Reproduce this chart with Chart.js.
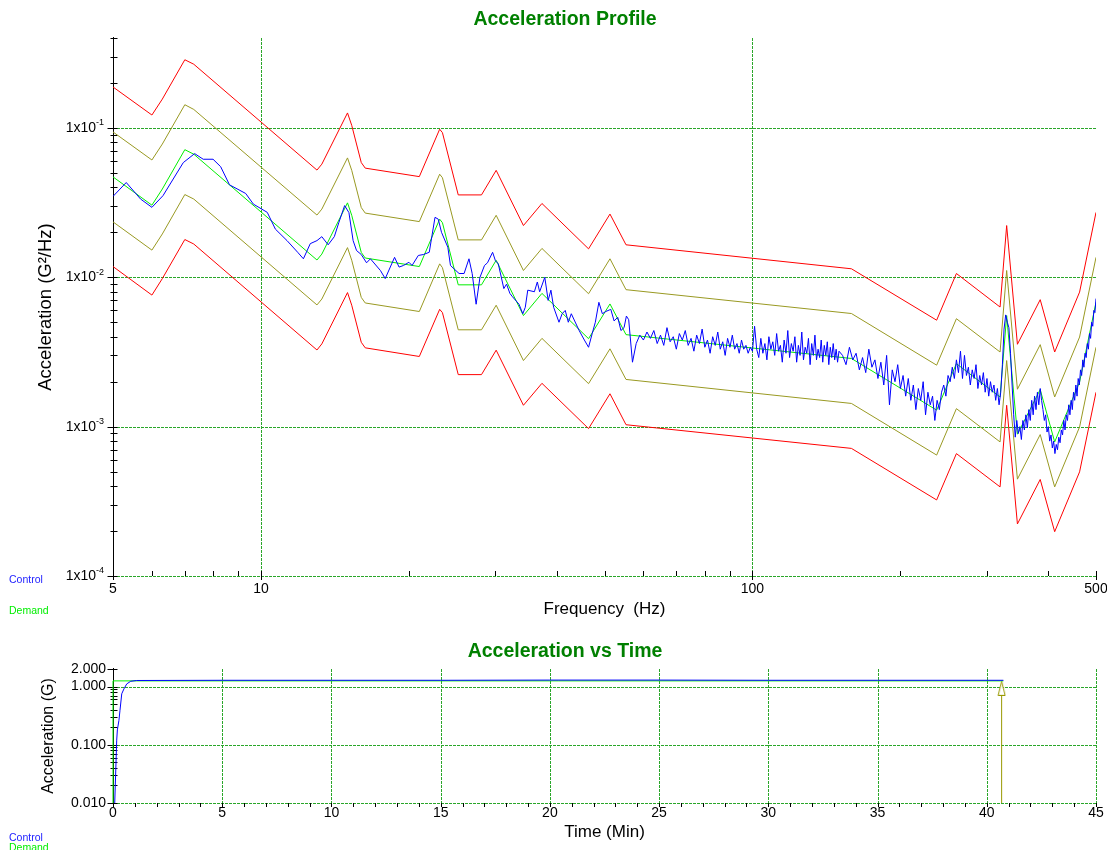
<!DOCTYPE html>
<html><head><meta charset="utf-8">
<script src="https://cdn.jsdelivr.net/npm/chart.js@4.4.1/dist/chart.umd.min.js"></script>
<style>
html,body{margin:0;padding:0;background:#fff;}
#wrap{position:relative;width:1107px;height:850px;overflow:hidden;background:#fff}
canvas{position:absolute;left:0}
</style>
</head><body>
<div id="wrap">
<canvas id="c1" width="1107" height="630" style="top:0"></canvas>
<canvas id="c2" width="1107" height="220" style="top:630px"></canvas>
</div>
<script>
// ---------------- DATA: Acceleration Profile ----------------
const profFreq = [5, 6, 6.3, 7, 7.3, 13, 13.3, 15, 15.3, 16, 16.3, 21, 23.1, 23.4, 25.2, 28.1, 30.1, 34.2, 37.3, 46.4, 51.3, 55.3, 159, 237, 260, 319, 329, 346, 385, 412, 463, 500];
const demandPSD = [0.047, 0.0304, 0.039, 0.0715, 0.0667, 0.01305, 0.0143, 0.0315, 0.026, 0.01466, 0.01346, 0.0118, 0.0245, 0.0232, 0.0089, 0.0089, 0.013, 0.00554, 0.0078, 0.00388, 0.00663, 0.00413, 0.00286, 0.00129, 0.00264, 0.00158, 0.00554, 0.00089, 0.00177, 0.00079, 0.00199, 0.0068];
const abortHigh = [0.188, 0.122, 0.156, 0.286, 0.267, 0.0522, 0.0572, 0.126, 0.104, 0.0586, 0.0538, 0.0472, 0.098, 0.093, 0.0356, 0.0356, 0.052, 0.0222, 0.0312, 0.0155, 0.0265, 0.0165, 0.0114, 0.00516, 0.0106, 0.00632, 0.0222, 0.00356, 0.00708, 0.00316, 0.00796, 0.0272];
const alarmHigh = [0.094, 0.061, 0.078, 0.143, 0.133, 0.0261, 0.0286, 0.063, 0.052, 0.0293, 0.0269, 0.0236, 0.049, 0.0464, 0.0178, 0.0178, 0.026, 0.0111, 0.0156, 0.00776, 0.0133, 0.00826, 0.00572, 0.00258, 0.00528, 0.00316, 0.0111, 0.00178, 0.00354, 0.00158, 0.00398, 0.0136];
const alarmLow = [0.0235, 0.0152, 0.0195, 0.0358, 0.0334, 0.00653, 0.00715, 0.0158, 0.013, 0.00733, 0.00673, 0.0059, 0.0123, 0.0116, 0.00445, 0.00445, 0.0065, 0.00277, 0.0039, 0.00194, 0.00332, 0.00207, 0.00143, 0.000645, 0.00132, 0.00079, 0.00277, 0.000445, 0.000885, 0.000395, 0.000995, 0.0034];
const abortLow = [0.0118, 0.0076, 0.0098, 0.0179, 0.0167, 0.00326, 0.00358, 0.0079, 0.0065, 0.00367, 0.00337, 0.00295, 0.0061, 0.0058, 0.00223, 0.00223, 0.00325, 0.00139, 0.00195, 0.00097, 0.00166, 0.00103, 0.000715, 0.000323, 0.00066, 0.000395, 0.00139, 0.000223, 0.000443, 0.000198, 0.000498, 0.0017];

// Control PSD, 5-55 Hz (frequency, value)
const ctrlLowF = [5.0,5.32,5.69,6.0,6.32,6.95,7.33,7.63,7.99,8.28,
  8.63,9.31,9.65,10.3,10.7,11.3,11.9,12.2,12.6,13.0,
  13.3,13.7,14.1,14.4,14.8,15.1,15.4,15.65,16.0,16.4,
  16.7,17.5,17.9,18.7,19.1,19.5,20.0,20.3,20.9,21.4,
  22.0,22.6,22.95,23.3,24.0,24.3,24.7,25.3,25.9,26.5,
  26.9,27.4,27.9,28.5,28.9,29.6,30.0,30.4,31.2,31.6,
  32.1,32.5,33.5,34.1,34.5,34.9,36.0,36.5,36.9,37.8,
  38.4,38.9,39.4,40.4,41.0,41.6,42.2,42.8,44.4,45.5,
  46.4,47.2,47.9,48.7,49.5,50.3,51.5,52.3,53.2,54.0,
  54.8,55.4];
const ctrlLowV = [0.0348,0.0431,0.0334,0.0294,0.0352,0.0586,0.0673,0.0617,0.0617,0.055,
  0.0416,0.0364,0.0309,0.0272,0.021,0.0176,0.0146,0.0133,0.0168,0.0176,
  0.0187,0.0165,0.0187,0.0232,0.0302,0.0271,0.0176,0.0151,0.0142,0.0125,
  0.0133,0.0111,0.0098,0.0136,0.0117,0.0120,0.0126,0.0120,0.0140,0.0142,
  0.0147,0.0252,0.0245,0.0200,0.0159,0.0120,0.0114,0.0106,0.0106,0.0133,
  0.0106,0.0066,0.0100,0.0120,0.0125,0.0147,0.0129,0.0123,0.0084,0.0090,
  0.0078,0.0074,0.0066,0.0057,0.0063,0.0082,0.0080,0.0093,0.0080,0.0100,
  0.0070,0.0082,0.0063,0.0050,0.0057,0.0060,0.0050,0.0057,0.0044,0.0038,
  0.0034,0.0042,0.0050,0.0068,0.0057,0.0059,0.0061,0.0051,0.0054,0.0044,
  0.0046,0.0055];
// Control PSD, 56-150 Hz, 1 Hz spacing
const ctrlMidStart = 56, ctrlMidStep = 1;
const ctrlMidV = [0.0052,0.0027,0.0036,0.0041,0.0038,0.0043,0.0039,0.0044,0.0036,0.0041,
  0.0035,0.0046,0.0037,0.0040,0.0033,0.0042,0.0038,0.0044,0.0035,0.0039,
  0.0032,0.0041,0.0036,0.0045,0.0034,0.0038,0.0031,0.0040,0.0035,0.0043,
  0.0033,0.0037,0.0030,0.0039,0.0034,0.0041,0.0033,0.0036,0.0031,0.0038,
  0.0033,0.0035,0.0031,0.0034,0.0032,0.0047,0.0033,0.0029,0.0039,0.0031,
  0.0036,0.0028,0.0040,0.0033,0.0037,0.0030,0.0042,0.0032,0.0035,0.0027,
  0.0038,0.0031,0.0044,0.0029,0.0036,0.0032,0.0040,0.0027,0.0035,0.0030,
  0.0043,0.0028,0.0034,0.0031,0.0039,0.0026,0.0036,0.0030,0.0041,0.0028,
  0.0033,0.0029,0.0038,0.0027,0.0035,0.0030,0.0037,0.0026,0.0034,0.0029,
  0.0036,0.0028,0.0033,0.0027,0.0032];
// Control PSD, 152.5-500 Hz, 2.5 Hz spacing
const ctrlHighStart = 152.5, ctrlHighStep = 2.5;
const ctrlHighV = [0.0030,0.0026,0.0034,0.0028,0.0031,0.0024,0.0029,0.0023,0.0033,0.0025,
  0.0028,0.0021,0.0027,0.0019,0.0030,0.0014,0.0024,0.0020,0.0026,0.0018,
  0.0022,0.0016,0.0021,0.0015,0.0019,0.0013,0.0018,0.0015,0.0020,0.0012,
  0.0017,0.0014,0.0016,0.0011,0.0015,0.0013,0.0017,0.0019,0.0016,0.0022,
  0.0020,0.0025,0.0021,0.0028,0.0023,0.0032,0.0021,0.0030,0.0022,0.0025,
  0.0019,0.0024,0.0021,0.0026,0.0018,0.0022,0.0019,0.0023,0.0017,0.0021,
  0.0016,0.0020,0.0017,0.0019,0.0015,0.0018,0.0014,0.0017,0.0026,0.0045,
  0.0056,0.0050,0.0046,0.0031,0.0019,0.0012,0.00085,0.0011,0.00090,0.0010,
  0.00082,0.0011,0.00095,0.0012,0.00098,0.0013,0.0011,0.0015,0.0012,0.0016,
  0.0013,0.0017,0.0014,0.0018,0.0015,0.0013,0.0011,0.0012,0.00092,0.0010,
  0.00080,0.00088,0.00072,0.00080,0.00066,0.00076,0.00070,0.00085,0.00078,0.00095,
  0.00088,0.0011,0.00095,0.0012,0.0011,0.0014,0.0012,0.0015,0.0013,0.0017,
  0.0015,0.0019,0.0016,0.0021,0.0019,0.0024,0.0022,0.0028,0.0025,0.0031,
  0.0029,0.0036,0.0033,0.0042,0.0039,0.0050,0.0047,0.0060,0.0058,0.0072];

// Ticks (top chart)
const freqTicks = [5, 10, 100, 500];
const freqTickLabels = ['5', '10', '100', '500'];
const freqMinorTicks = [6, 7, 8, 9, 20, 30, 40, 50, 60, 70, 80, 90, 200, 300, 400];
const freqGrid = [10, 100];
const psdTicks = [1e-4, 1e-3, 1e-2, 1e-1];
const psdTickBase = ['1x10', '1x10', '1x10', '1x10'];
const psdTickExp = ['-4', '-3', '-2', '-1'];
const psdMinorTicks = [2e-4,3e-4,4e-4,5e-4,6e-4,7e-4,8e-4,9e-4,2e-3,3e-3,4e-3,5e-3,6e-3,7e-3,8e-3,9e-3,0.02,0.03,0.04,0.05,0.06,0.07,0.08,0.09,0.2,0.3,0.4];

// ---------------- DATA: Acceleration vs Time ----------------
const timeCtrlT = [0.06, 0.17, 0.2, 0.27, 0.32, 0.4, 0.5, 0.63, 0.81, 1.08, 5, 10, 15, 20, 25, 30, 35, 40.76];
const timeCtrlV = [0.006, 0.12, 0.18, 0.26, 0.39, 0.75, 0.91, 1.11, 1.23, 1.27, 1.28, 1.28, 1.28, 1.29, 1.29, 1.28, 1.28, 1.28];
const timeDemT = [0, 0, 40.76];
const timeDemV = [0.01, 1.25, 1.25];
const markerT = [40.68, 40.68];
const markerV = [0.01, 0.93];
const timeTicks = [0, 5, 10, 15, 20, 25, 30, 35, 40, 45];
const timeTickLabels = ['0', '5', '10', '15', '20', '25', '30', '35', '40', '45'];
const timeGrid = [5, 10, 15, 20, 25, 30, 35, 40, 45];
const timeMinorTicks = [1,2,3,4,6,7,8,9,11,12,13,14,16,17,18,19,21,22,23,24,26,27,28,29,31,32,33,34,36,37,38,39,41,42,43,44];
const gTicks = [0.01, 0.1, 1, 2];
const gTickLabels = ['0.010', '0.100', '1.000', '2.000'];
const gGrid = [0.01, 0.1, 1];
const gMinorTicks = [0.02,0.03,0.04,0.05,0.06,0.07,0.08,0.09,0.2,0.3,0.4,0.5,0.6,0.7,0.8,0.9];

// ---------------- STYLE ----------------
const FONT = "'Liberation Sans', Arial, Helvetica, sans-serif";
const GRID_COLOR = '#2aa62a';
const OLIVE = '#999922';
Chart.defaults.font.family = FONT;

function seg(ctx, x1, y1, x2, y2) { ctx.beginPath(); ctx.moveTo(x1, y1); ctx.lineTo(x2, y2); ctx.stroke(); }
const px = v => Math.round(v) + 0.5;

function axesPlugin(cfg) {
  return {
    id: 'axes_' + cfg.name,
    beforeDatasetsDraw(chart) {
      const ctx = chart.ctx, xs = chart.scales.x, ys = chart.scales.y, a = chart.chartArea;
      ctx.save();
      ctx.lineWidth = 1;
      ctx.strokeStyle = GRID_COLOR;
      ctx.setLineDash([3, 1]);
      cfg.xGrid.forEach(v => { const x = px(xs.getPixelForValue(v)); seg(ctx, x, a.top, x, a.bottom); });
      cfg.yGrid.forEach(v => { const y = px(ys.getPixelForValue(v)); seg(ctx, a.left, y, a.right, y); });
      ctx.setLineDash([]);
      ctx.strokeStyle = '#000';
      const ax = px(a.left);
      seg(ctx, ax, a.top - 1, ax, Math.round(a.bottom) + 1);
      cfg.yMinor.forEach(v => { const y = px(ys.getPixelForValue(v)); seg(ctx, ax - 3, y, ax + 4, y); });
      cfg.yMajor.forEach(v => { const y = px(ys.getPixelForValue(v)); seg(ctx, ax - 6, y, ax + 4, y); });
      const by = Math.round(a.bottom);
      cfg.xMinor.forEach(v => { const x = px(xs.getPixelForValue(v)); seg(ctx, x, by + cfg.xMinorTick[0], x, by + cfg.xMinorTick[1]); });
      cfg.xMajor.forEach(v => { const x = px(xs.getPixelForValue(v)); seg(ctx, x, by + cfg.xMajorTick[0], x, by + cfg.xMajorTick[1]); });
      ctx.restore();
    },
    afterDraw(chart) {
      const ctx = chart.ctx, xs = chart.scales.x, ys = chart.scales.y;
      ctx.save();
      ctx.fillStyle = '#000';
      ctx.textBaseline = 'middle';
      ctx.font = '14px ' + FONT;
      ctx.textAlign = 'center';
      cfg.xMajor.forEach((v, i) => ctx.fillText(cfg.xLabels[i], xs.getPixelForValue(v), cfg.xLabelY));
      cfg.yMajor.forEach((v, i) => cfg.drawYLabel(ctx, i, ys.getPixelForValue(v)));
      ctx.font = '10.5px ' + FONT;
      ctx.textAlign = 'left';
      cfg.legend.forEach(l => { ctx.fillStyle = l.color; ctx.fillText(l.text, 9, l.y); });
      ctx.restore();
    }
  };
}

// ---------------- TOP CHART ----------------
const profilePts = vals => profFreq.map((f, i) => ({x: f, y: vals[i]}));
const ctrlPts = [];
ctrlLowF.forEach((f, i) => ctrlPts.push({x: f, y: ctrlLowV[i]}));
ctrlMidV.forEach((v, i) => ctrlPts.push({x: ctrlMidStart + i * ctrlMidStep, y: v}));
ctrlHighV.forEach((v, i) => ctrlPts.push({x: ctrlHighStart + i * ctrlHighStep, y: v}));

const lineDs = (label, data, color) => ({label, data, borderColor: color, backgroundColor: color, borderWidth: 1, pointRadius: 0, tension: 0, fill: false});

new Chart(document.getElementById('c1'), {
  type: 'line',
  data: { datasets: [
    lineDs('Control', ctrlPts, '#0000ff'),
    lineDs('Demand', profilePts(demandPSD), '#00ee00'),
    lineDs('Alarm +', profilePts(alarmHigh), OLIVE),
    lineDs('Alarm -', profilePts(alarmLow), OLIVE),
    lineDs('Abort +', profilePts(abortHigh), '#ff0000'),
    lineDs('Abort -', profilePts(abortLow), '#ff0000')
  ]},
  options: {
    responsive: false, animation: false, devicePixelRatio: 1,
    layout: { padding: { left: 34, right: 11, top: 0, bottom: 0 } },
    plugins: {
      legend: { display: false }, tooltip: { enabled: false },
      title: { display: true, text: 'Acceleration Profile', color: '#008000',
        font: { family: FONT, size: 19.5, weight: 'bold' }, padding: { top: 8.3, bottom: 6.3 } }
    },
    scales: {
      x: { type: 'logarithmic', min: 5, max: 500, grid: { display: false }, border: { display: false },
        ticks: { display: false },
        title: { display: true, text: 'Frequency  (Hz)', color: '#000', font: { family: FONT, size: 17 }, padding: { top: 0, bottom: 10.8 } },
        afterFit: s => { s.height = 54; } },
      y: { type: 'logarithmic', min: 1e-4, max: 0.4, grid: { display: false }, border: { display: false },
        ticks: { display: false },
        title: { display: true, text: 'Acceleration (G²/Hz)', color: '#000', font: { family: FONT, size: 18.5 }, padding: { top: 0.4, bottom: 0 } },
        afterFit: s => { s.width = 79; } }
    }
  },
  plugins: [axesPlugin({
    name: 'psd', xGrid: freqGrid, yGrid: psdTicks,
    yMinor: psdMinorTicks, yMajor: psdTicks,
    xMinor: freqMinorTicks, xMajor: freqTicks, xMinorTick: [-5, 0], xMajorTick: [-5, 4],
    xLabels: freqTickLabels, xLabelY: 589,
    drawYLabel(ctx, i, y) {
      ctx.font = '9px ' + FONT;
      const we = ctx.measureText(psdTickExp[i]).width;
      const xe = 104 - we;
      ctx.textAlign = 'left';
      ctx.fillText(psdTickExp[i], xe, y - 5);
      ctx.font = '14px ' + FONT;
      ctx.textAlign = 'right';
      ctx.fillText(psdTickBase[i], xe, y);
    },
    legend: [{ text: 'Control', color: '#2222ff', y: 580 }, { text: 'Demand', color: '#00ee00', y: 611 }]
  })]
});

// ---------------- BOTTOM CHART ----------------
function arrowHead() {
  const c = document.createElement('canvas');
  c.width = 9; c.height = 15;
  const g = c.getContext('2d');
  g.fillStyle = '#fff'; g.strokeStyle = '#999900'; g.lineWidth = 1;
  g.beginPath(); g.moveTo(4.5, 0.5); g.lineTo(8, 14.5); g.lineTo(1, 14.5); g.closePath();
  g.fill(); g.stroke();
  return c;
}
const head = arrowHead();

new Chart(document.getElementById('c2'), {
  type: 'line',
  data: { datasets: [
    lineDs('Control', timeCtrlT.map((t, i) => ({x: t, y: timeCtrlV[i]})), '#0000ff'),
    Object.assign(lineDs('Demand', timeDemT.map((t, i) => ({x: t, y: timeDemV[i]})), '#00ee00'), { clip: 2 }),
    Object.assign(lineDs('Marker', markerT.map((t, i) => ({x: t, y: markerV[i]})), '#999900'), {
      pointRadius: c => c.dataIndex === 1 ? 5 : 0,
      pointStyle: c => c.dataIndex === 1 ? head : 'circle'
    })
  ]},
  options: {
    responsive: false, animation: false, devicePixelRatio: 1,
    layout: { padding: { left: 34, right: 11, top: 0, bottom: 0 } },
    plugins: {
      legend: { display: false }, tooltip: { enabled: false },
      title: { display: true, text: 'Acceleration vs Time', color: '#008000',
        font: { family: FONT, size: 19.5, weight: 'bold' }, padding: { top: 10.3, bottom: 5.3 } }
    },
    scales: {
      x: { type: 'linear', min: 0, max: 45, grid: { display: false }, border: { display: false },
        ticks: { display: false },
        title: { display: true, text: 'Time (Min)', color: '#000', font: { family: FONT, size: 17 }, padding: { top: 0, bottom: 7.8 } },
        afterFit: s => { s.height = 47; } },
      y: { type: 'logarithmic', min: 0.01, max: 2, grid: { display: false }, border: { display: false },
        ticks: { display: false },
        title: { display: true, text: 'Acceleration (G)', color: '#000', font: { family: FONT, size: 16 }, padding: { top: 4.7, bottom: 0 } },
        afterFit: s => { s.width = 79; } }
    }
  },
  plugins: [axesPlugin({
    name: 'time', xGrid: timeGrid, yGrid: gGrid,
    yMinor: gMinorTicks, yMajor: gTicks,
    xMinor: timeMinorTicks, xMajor: timeTicks, xMinorTick: [0, 4], xMajorTick: [0, 4],
    xLabels: timeTickLabels, xLabelY: 183.5,
    drawYLabel(ctx, i, y) {
      ctx.font = '14px ' + FONT;
      ctx.textAlign = 'right';
      ctx.fillText(gTickLabels[i], 106, y);
    },
    legend: [{ text: 'Control', color: '#2222ff', y: 208 }, { text: 'Demand', color: '#00ee00', y: 218 }]
  })]
});
</script>
</body></html>
